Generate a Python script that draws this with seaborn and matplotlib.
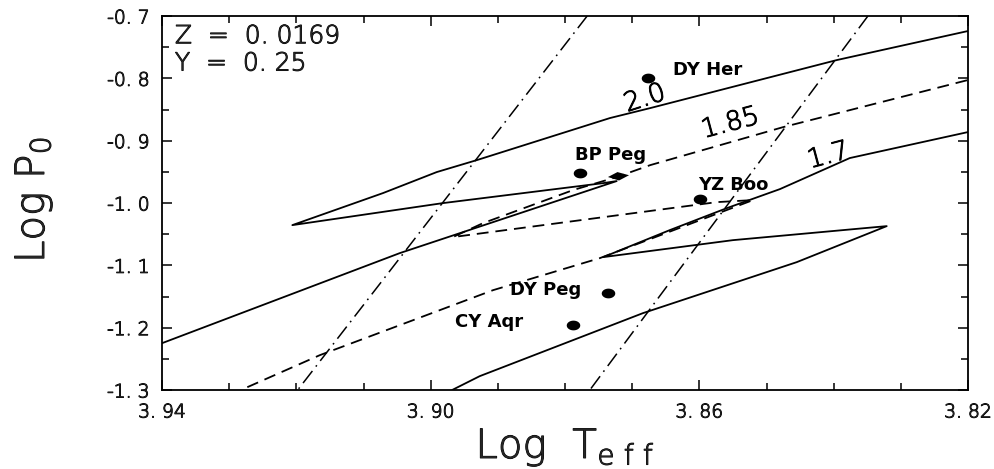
import numpy as np
import pandas as pd
import matplotlib
matplotlib.use("Agg")
import matplotlib.pyplot as plt
import matplotlib.patheffects as pe
import seaborn as sns

# ---------------- data ----------------
track_20_logT = [3.94, 3.9046, 3.8723, 3.8743, 3.8982, 3.9206, 3.9071, 3.8991,
                 3.8931, 3.8733, 3.8673, 3.8395, 3.82]
track_20_logP = [-1.2249, -1.0804, -0.9648, -0.9681, -1.0002, -1.0355, -0.9841,
                 -0.9504, -0.9311, -0.8637, -0.8477, -0.7706, -0.7241]

track_185_logT = [3.9273, 3.9165, 3.8907, 3.8748, 3.8520, 3.8574, 3.8967, 3.8922,
                  3.8788, 3.8723, 3.8673, 3.8475, 3.82]
track_185_logP = [-1.2955, -1.2441, -1.1398, -1.0884, -0.9953, -0.9986, -1.0547,
                  -1.0323, -0.9793, -0.9584, -0.9392, -0.8782, -0.8027]

track_17_logT = [3.8968, 3.8927, 3.8684, 3.8455, 3.8321, 3.8550, 3.8743, 3.8644,
                 3.8559, 3.8480, 3.8376, 3.82]
track_17_logP = [-1.30, -1.2778, -1.1767, -1.0949, -1.0371, -1.0596, -1.0868,
                 -1.0435, -1.0082, -0.9777, -0.9279, -0.8862]

edge_blue_logT = [3.8767, 3.9198]
edge_blue_logP = [-0.7, -1.3]
edge_red_logT = [3.8349, 3.8763]
edge_red_logP = [-0.7, -1.3]

star_names = ["DY Her", "BP Peg", "YZ Boo", "DY Peg", "CY Aqr"]
star_logT = [3.8676, 3.8778, 3.8599, 3.8736, 3.8788]
star_logP = [-0.7995, -0.952, -0.9937, -1.1446, -1.196]

model_logT = [3.8721]
model_logP = [-0.9568]

mass_labels = ["2.0", "1.85", "1.7"]

xtick_values = [3.94, 3.90, 3.86, 3.82]
xtick_labels = ["3. 94", "3. 90", "3. 86", "3. 82"]
ytick_values = [-0.7, -0.8, -0.9, -1.0, -1.1, -1.2, -1.3]
ytick_labels = ["-0. 7", "-0. 8", "-0. 9", "-1. 0", "-1. 1", "-1. 2", "-1. 3"]

composition_lines = ["Z  =  0. 0169", "Y  =  0. 25"]

# ---------------- style ----------------
sns.set_theme(style="ticks")
plt.rcParams["font.family"] = ["DejaVu Sans"]
plt.rcParams["lines.scale_dashes"] = False
plt.rcParams["mathtext.fontset"] = "dejavusans"

thin = [pe.withStroke(linewidth=0.7, foreground="black")]

fig = plt.figure(figsize=(9.94, 4.69), dpi=100)
ax = fig.add_axes([162 / 994, 79 / 469, 806 / 994, 374 / 469])

lw = 1.3
sns.lineplot(x=track_20_logT, y=track_20_logP, sort=False, estimator=None,
             color="black", lw=lw, ax=ax)
sns.lineplot(x=track_185_logT, y=track_185_logP, sort=False, estimator=None,
             color="black", lw=lw, ax=ax, linestyle=(0, (8.5, 5.0)))
sns.lineplot(x=track_17_logT, y=track_17_logP, sort=False, estimator=None,
             color="black", lw=lw, ax=ax)
for ex, ey in [(edge_blue_logT, edge_blue_logP), (edge_red_logT, edge_red_logP)]:
    sns.lineplot(x=ex, y=ey, sort=False, estimator=None, color="black",
                 lw=1.1, ax=ax, linestyle=(0, (11, 4, 1.2, 4)))

# ellipse marker for stars
t = np.linspace(0, 2 * np.pi, 40)
ellipse = np.column_stack([np.cos(t), 0.72 * np.sin(t)])
sns.scatterplot(x=star_logT, y=star_logP, marker=ellipse, s=95, color="black",
                edgecolor="black", linewidth=0, ax=ax, zorder=5)
diamond = np.array([[-1.0, -0.05], [-0.1, 0.42], [1.0, 0.12], [0.05, -0.38], [-1.0, -0.05]])
sns.scatterplot(x=model_logT, y=model_logP, marker=diamond, s=230, color="black",
                edgecolor="black", linewidth=0, ax=ax, zorder=5)

# star labels
star_label_pos = [(3.8639, -0.787), (3.8785, -0.923), (3.8602, -0.9713),
                  (3.8882, -1.1398), (3.8964, -1.1912)]
for name, (lx, ly) in zip(star_names, star_label_pos):
    ax.text(lx, ly, name, ha="left", va="center", fontsize=13,
            fontweight="bold", color="black")

# mass labels
mass_pos = [(3.8681, -0.832, 18), (3.8554, -0.872, 15), (3.8408, -0.924, 15)]
for lab, (mx, my, rot) in zip(mass_labels, mass_pos):
    ax.text(mx, my, lab, ha="center", va="center", fontsize=19,
            fontweight="light", rotation=rot, color="black", path_effects=thin)

ax.text(0.016, 0.978, composition_lines[0], transform=ax.transAxes, ha="left",
        va="top", fontsize=18, fontweight="light", path_effects=thin)
ax.text(0.016, 0.905, composition_lines[1], transform=ax.transAxes, ha="left",
        va="top", fontsize=18, fontweight="light", path_effects=thin)

ax.set_xlim(3.94, 3.82)
ax.set_ylim(-1.3, -0.7)
ax.set_xticks(xtick_values)
ax.set_xticklabels(xtick_labels)
ax.set_yticks(ytick_values)
ax.set_yticklabels(ytick_labels)
ax.set_xticks(np.arange(3.82, 3.9401, 0.01), minor=True)
ax.set_yticks(np.arange(-1.3, -0.6999, 0.05), minor=True)
ax.tick_params(which="both", direction="in", top=True, right=True,
               width=1.1, color="black", labelsize=13.5)
ax.tick_params(which="major", length=7, pad=9)
ax.tick_params(which="minor", length=5)
for lab in ax.get_xticklabels() + ax.get_yticklabels():
    lab.set_fontweight("light")
    lab.set_path_effects(thin)
for sp in ax.spines.values():
    sp.set_visible(True)
    sp.set_linewidth(1.3)
    sp.set_color("black")
ax.set_xlabel("")
ax.set_ylabel("")

fig.text(565 / 994, 1 - 447 / 469, r"Log  T$_{\mathregular{e\ f\ f}}$", ha="center",
         va="center", fontsize=29, fontweight="light", path_effects=thin)
fig.text(33 / 994, 1 - 200 / 469, r"Log P$_{\mathregular{0}}$", ha="center",
         va="center", fontsize=29, fontweight="light", rotation=90,
         path_effects=thin)

fig.savefig("out.png", dpi=100)
